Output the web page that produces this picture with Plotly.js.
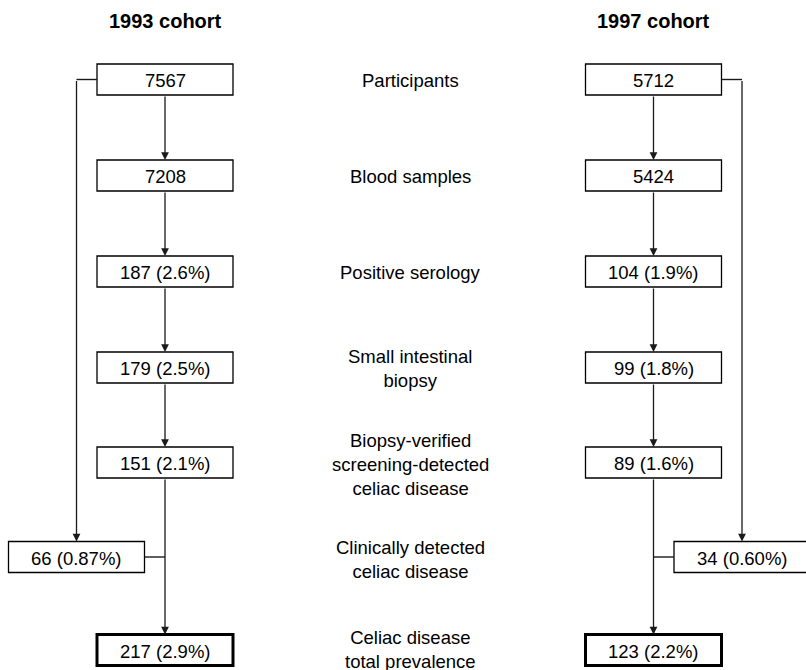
<!DOCTYPE html>
<html>
<head>
<meta charset="utf-8">
<script src="https://cdn.plot.ly/plotly-3.0.1.min.js"></script>
<style>html,body{margin:0;padding:0;background:#fff;}#chart{width:806px;height:670px;}</style>
</head>
<body>
<div id="chart"></div>
<script>
// ---- data ----
const cohorts = ['1993 cohort', '1997 cohort'];
const stages = ['Participants', 'Blood samples', 'Positive serology', 'Small intestinal<br>biopsy',
  'Biopsy-verified<br>screening-detected<br>celiac disease', 'Clinically detected<br>celiac disease',
  'Celiac disease<br>total prevalence'];
const n1993 = [7567, 7208, 187, 179, 151, 66, 217];
const pct1993 = [null, null, '2.6', '2.5', '2.1', '0.87', '2.9'];
const n1997 = [5712, 5424, 104, 99, 89, 34, 123];
const pct1997 = [null, null, '1.9', '1.8', '1.6', '0.60', '2.2'];

// ---- layout geometry (pixel-like data units) ----
const W = 806, H = 670;
const rowY = [79.5, 175.5, 271.5, 367.5, 462.5, 557, 650];
const labelDY = [1, 1, 1, 1, 2, 2, -1];
const boxH = 31, boxW = 136;
const colX = [165, 653.5];
const sideX = [76.5, 742];   // clinically detected boxes / bypass lines
const labelX = 410;
const CLIN = 5, TOTAL = 6;
const lineCol = '#1a1a1a';
const FONT = 'Liberation Sans, Arial, sans-serif';

function label(n, p) { return p === null ? String(n) : n + ' (' + p + '%)'; }

const shapes = [], annotations = [];
function box(cx, cy, w) {
  return { type: 'rect', xref: 'x', yref: 'y', x0: cx - boxW / 2, x1: cx + boxW / 2,
    y0: cy - boxH / 2, y1: cy + boxH / 2, line: { color: '#000', width: w }, fillcolor: 'rgba(0,0,0,0)' };
}
function seg(x0, y0, x1, y1) {
  return { type: 'line', xref: 'x', yref: 'y', x0, y0, x1, y1, line: { color: lineCol, width: 1.4 } };
}
function arrow(x0, y0, x1, y1) {
  annotations.push({ xref: 'x', yref: 'y', axref: 'x', ayref: 'y', x: x1, y: y1, ax: x0, ay: y0,
    text: '', showarrow: true, arrowhead: 2, arrowsize: 1.2, arrowwidth: 1.3, arrowcolor: lineCol, standoff: 0 });
}
function txt(x, y, s, size, bold) {
  annotations.push({ xref: 'x', yref: 'y', x, y, text: bold ? '<b>' + s + '</b>' : s, showarrow: false,
    xanchor: 'center', yanchor: 'middle', font: { family: FONT, size, color: '#000' } });
}

const data = [[n1993, pct1993], [n1997, pct1997]];
data.forEach(([ns, ps], c) => {
  const cx = colX[c];
  txt(cx, 21, cohorts[c], 20, true);
  // main column boxes
  [0, 1, 2, 3, 4, TOTAL].forEach(i => {
    shapes.push(box(cx, rowY[i], i === TOTAL ? 3 : 1.3));
    txt(cx, rowY[i] + 1, label(ns[i], ps[i]), 18.5);
  });
  // arrows between stages
  for (let i = 0; i < 4; i++) arrow(cx, rowY[i] + boxH / 2, cx, rowY[i + 1] - boxH / 2);
  arrow(cx, rowY[4] + boxH / 2, cx, rowY[TOTAL] - boxH / 2);
  // clinically detected box
  const sx = sideX[c];
  shapes.push(box(sx, rowY[CLIN], 1.3));
  txt(sx, rowY[CLIN] + 1, label(ns[CLIN], ps[CLIN]), 18.5);
  // bypass from participants
  const edge = c === 0 ? cx - boxW / 2 : cx + boxW / 2;
  shapes.push(seg(edge, rowY[0], sx, rowY[0]));
  arrow(sx, rowY[0], sx, rowY[CLIN] - boxH / 2);
  // connector from clinical box into main line
  const sedge = c === 0 ? sx + boxW / 2 : sx - boxW / 2;
  shapes.push(seg(sedge, rowY[CLIN], cx, rowY[CLIN]));
});
stages.forEach((s, i) => txt(labelX, rowY[i] + labelDY[i], s, 18.5));

const layout = {
  width: W, height: H, margin: { l: 0, r: 0, t: 0, b: 0 },
  paper_bgcolor: '#fff', plot_bgcolor: '#fff', showlegend: false,
  xaxis: { range: [0, W], visible: false, fixedrange: true },
  yaxis: { range: [H, 0], visible: false, fixedrange: true },
  shapes, annotations
};
Plotly.newPlot('chart', [{ x: [], y: [], type: 'scatter', hoverinfo: 'skip' }], layout,
  { displayModeBar: false, staticPlot: true });
</script>
</body>
</html>
